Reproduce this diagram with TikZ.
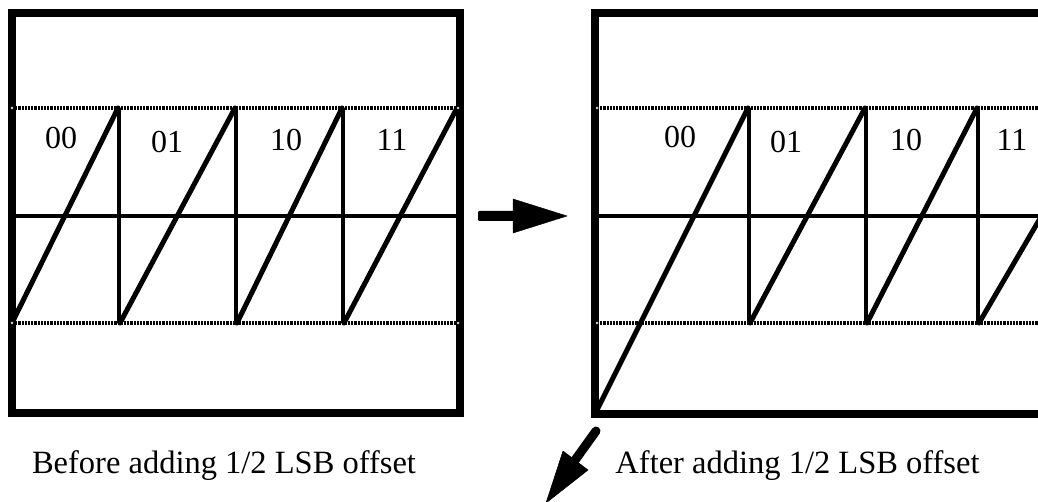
\documentclass[tikz,border=0pt]{standalone}
\usepackage{fontspec}
\setmainfont{Liberation Serif}
\begin{document}
\begin{tikzpicture}[x=1pt,y=-1pt,
  frame/.style={line width=7.5pt, line join=miter},
  saw/.style={line width=5pt, line join=miter, line cap=round},
  riser/.style={line width=4pt},
  midline/.style={line width=3.5pt},
  dotline/.style={line width=3.2pt, line cap=butt, dash pattern=on 2.2pt off 1pt},
  endmark/.style={circle, draw, fill=white, line width=0.6pt, inner sep=0pt, minimum size=3.5pt},
  code/.style={font=\fontsize{32}{36}\selectfont, inner sep=0pt},
  caption/.style={font=\fontsize{32.5}{38}\selectfont, inner sep=0pt, anchor=base},
  bigarrow/.style={fill=black, draw=black, line width=0.5pt, line join=round}
]
\useasboundingbox (0,0) rectangle (1038,502);
\begin{scope}
\clip (0,0) rectangle (1038,502);
% ---------- left panel ----------
\draw[dotline] (12,108) -- (458,108);
\draw[dotline] (12,323) -- (458,323);
\draw[midline] (12,216) -- (460,216);
\draw[saw] (12,323) -- (118,108);
\draw[riser] (119,108) -- (119,323);
\draw[saw] (120,323) -- (235,108);
\draw[riser] (236,108) -- (236,323);
\draw[saw] (237,323) -- (342,108);
\draw[riser] (343,108) -- (343,323);
\draw[saw] (344,323) -- (457,108);
\draw[frame] (12,13) rectangle (460,413);
\node[endmark] at (12,108) {};
\node[endmark] at (458,108) {};
\node[endmark] at (12,323) {};
\node[endmark] at (458,323) {};
\node[code] (l00) at (61,138) {00};
\node[code] (l01) at (167,142) {01};
\node[code] (l10) at (286,140) {10};
\node[code] (l11) at (392,140) {11};
% ---------- right panel ----------
\draw[dotline] (597,108) -- (1040,108);
\draw[dotline] (597,323) -- (1040,323);
\draw[midline] (595,216) -- (1040,216);
\draw[saw] (597,410) -- (748,108);
\draw[riser] (749,108) -- (749,323);
\draw[saw] (750,323) -- (865,108);
\draw[riser] (866,108) -- (866,323);
\draw[saw] (867,323) -- (977,108);
\draw[riser] (978,108) -- (978,323);
\draw[saw] (979,323) -- (1052,198);
\draw[frame] (1060,13) -- (595,13) -- (595,414) -- (1060,414);
\node[endmark] at (597,108) {};
\node[endmark] at (597,323) {};
\node[code] (r00) at (680,137) {00};
\node[code] (r01) at (786,142) {01};
\node[code] (r10) at (906,140) {10};
\node[code] (r11) at (1012,140) {11};
% ---------- arrows ----------
\fill[rounded corners=1pt] (478,211) rectangle (516,221);
\draw[bigarrow] (513,199) -- (567,216) -- (513,233) -- cycle;
\draw[line width=9pt, line cap=round] (596,431) -- (573,463);
\draw[bigarrow] (563,451) -- (588,470) -- (546,503) -- cycle;
% ---------- captions ----------
\node[caption] (capL) at (224,473) {Before adding 1/2 LSB offset};
\node[caption] (capR) at (797.5,473) {After adding 1/2 LSB offset};
\end{scope}
\end{tikzpicture}
\end{document}
